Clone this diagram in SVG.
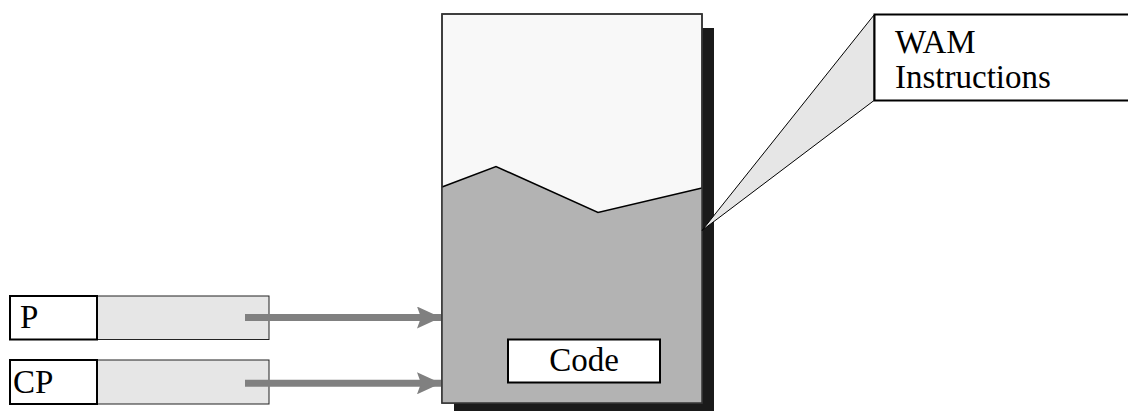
<svg xmlns="http://www.w3.org/2000/svg" width="1128" height="411" viewBox="0 0 1128 411">
<defs>
<style>
text{font-family:"Liberation Serif","Times New Roman",serif;font-size:33px;fill:#000}
.lbl{fill:#fff;stroke:#000;stroke-width:2}
.reg{fill:#e6e6e6;stroke:#222;stroke-width:1}
.arr{stroke:#808080;stroke-width:7;fill:none}
</style>
<marker id="ah" viewBox="0 0 24 22" refX="24" refY="11" markerWidth="24" markerHeight="22" markerUnits="userSpaceOnUse" orient="auto">
<path d="M0,0 L24,11 L0,22 L4,11 Z" fill="#808080"/>
</marker>
</defs>
<rect width="1128" height="411" fill="#fff"/>
<g id="memory">
<rect x="454" y="28" width="260" height="383" fill="#1a1a1a"/>
<rect x="442" y="14" width="260" height="389" fill="#f8f8f8" stroke="#333" stroke-width="1.5"/>
<path d="M442,187 L496,166.5 L598,212.5 L702,188 L702,403 L442,403 Z" fill="#b3b3b3" stroke="none"/>
<path d="M442,187 L496,166.5 L598,212.5 L702,188" fill="none" stroke="#000" stroke-width="1.5"/>
<rect x="442" y="14" width="260" height="389" fill="none" stroke="#333" stroke-width="1.5"/>
</g>
<g id="code">
<rect class="lbl" x="508" y="339.5" width="152" height="43"/>
<text x="584" y="370.5" text-anchor="middle">Code</text>
</g>
<g id="callout">
<path d="M874,15 L702,230.5 L874,100.5 Z" fill="#e6e6e6" stroke="#000" stroke-width="1"/>
<rect class="lbl" x="874.5" y="14.5" width="260" height="86"/>
<text x="895" y="53">WAM</text>
<text x="895" y="87.5">Instructions</text>
</g>
<g id="reg-P">
<rect class="reg" x="97" y="296" width="172" height="43.5"/>
<rect class="lbl" x="10" y="296" width="87" height="43.5"/>
<text x="20" y="328.3">P</text>
</g>
<g id="reg-CP">
<rect class="reg" x="97" y="360" width="172" height="44"/>
<rect class="lbl" x="10" y="360" width="87" height="44"/>
<text x="13" y="393.3">CP</text>
</g>
<g id="connectors">
<line class="arr" x1="245" y1="317.5" x2="441" y2="317.5" marker-end="url(#ah)"/>
<line class="arr" x1="245" y1="383.3" x2="441" y2="383.3" marker-end="url(#ah)"/>
</g>
</svg>
